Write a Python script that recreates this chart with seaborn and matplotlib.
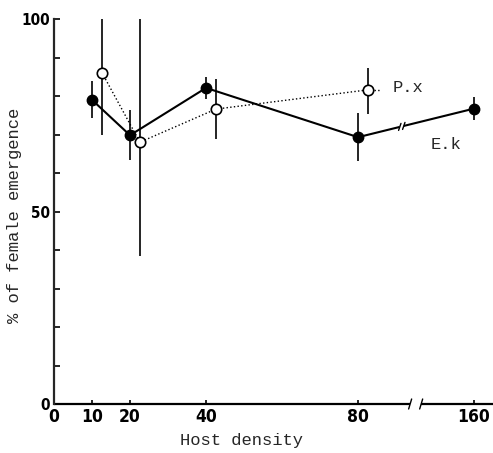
import numpy as np
import pandas as pd
import matplotlib
matplotlib.use("Agg")
import matplotlib.pyplot as plt
import seaborn as sns

# Host densities tested and axis tick labels
density = [10, 20, 40, 80, 160]
tick_values = [0, 10, 20, 40, 80, 160]
tick_labels = ["0", "10", "20", "40", "80", "160"]

# E. k : mean % female emergence and standard error
ek_mean = [79.0, 69.8, 82.1, 69.3, 76.7]
ek_err = [4.8, 6.5, 2.8, 6.2, 3.0]

# P. x : mean % female emergence and error (lower / upper)
px_density = [10, 20, 40, 80]
px_mean = [86.1, 68.0, 76.6, 81.6]
px_err_low = [16.3, 29.6, 7.8, 6.2]
px_err_high = [16.3, 32.0, 7.8, 5.8]

PX_DODGE = 2.6          # small horizontal shift so the two series do not overlap
COMPRESS = 0.38         # densities beyond 80 are drawn on a compressed scale
AXIS_BREAK = (93.7, 96.6)
LINE_BREAK = 91.5
XMAX, YMAX = 115.5, 100


def axis_pos(d):
    d = np.asarray(d, dtype=float)
    return np.where(d <= 80, d, 80 + (d - 80) * COMPRESS)


ek = pd.DataFrame({"pos": axis_pos(density), "pct": ek_mean, "err": ek_err})
px = pd.DataFrame({"pos": axis_pos(px_density) + PX_DODGE, "pct": px_mean,
                   "lo": px_err_low, "hi": px_err_high})

sns.set_style("white")
plt.rcParams["font.family"] = ["Liberation Mono", "DejaVu Sans Mono"]

fig = plt.figure(figsize=(4.93, 4.53), dpi=100)
ax = fig.add_axes([54 / 493, 49 / 453, 439 / 493, 385 / 453])

# error bars (under the markers)
ax.errorbar(ek["pos"], ek["pct"], yerr=ek["err"], fmt="none", ecolor="black",
            elinewidth=1.2, capsize=0, zorder=2)
ax.errorbar(px["pos"], px["pct"], yerr=[px["lo"], px["hi"]], fmt="none",
            ecolor="black", elinewidth=1.2, capsize=0, zorder=2)

sns.lineplot(data=px, x="pos", y="pct", ax=ax, color="black", linestyle=":",
             linewidth=1.0, marker="o", markersize=7.5, markerfacecolor="white",
             markeredgecolor="black", markeredgewidth=1.2, zorder=3)
sns.lineplot(data=ek, x="pos", y="pct", ax=ax, color="black", linestyle="-",
             linewidth=1.5, marker="o", markersize=7.5, markerfacecolor="black",
             markeredgecolor="black", markeredgewidth=1.0, zorder=4)

ax.set_xlim(0, XMAX)
ax.set_ylim(0, YMAX)

# data units per pixel, used for the small break marks
sx = XMAX / 439
sy = YMAX / 385

# short dotted leader from the last P.x point towards its label
x_last = px["pos"].iloc[-1]
ax.plot([x_last + 1.6, x_last + 3.4], [px_mean[-1], px_mean[-1]], color="black",
        linestyle=":", linewidth=1.0, zorder=3)

# break on the E.k line between 80 and 160
yb = np.interp(LINE_BREAK, ek["pos"].iloc[3:5], ek["pct"].iloc[3:5])
slope = (ek["pct"].iloc[4] - ek["pct"].iloc[3]) / (ek["pos"].iloc[4] - ek["pos"].iloc[3])
gx = 2.0 * sx
ax.plot([LINE_BREAK - gx, LINE_BREAK + gx],
        [yb - slope * gx, yb + slope * gx], color="white", lw=3.2, zorder=5,
        solid_capstyle="butt")
for x0 in (LINE_BREAK - gx, LINE_BREAK + gx):
    y0 = yb + slope * (x0 - LINE_BREAK)
    ax.plot([x0 - 1.2 * sx, x0 + 1.2 * sx], [y0 - 3.5 * sy, y0 + 3.5 * sy],
            color="black", lw=1.0, zorder=6)

# spines: left axis plus a broken bottom axis
for side in ("top", "right", "bottom"):
    ax.spines[side].set_visible(False)
ax.spines["left"].set_linewidth(1.6)
xt = ax.get_xaxis_transform()
ax.plot([0, AXIS_BREAK[0]], [0, 0], transform=xt, color="black", lw=1.6,
        clip_on=False, solid_capstyle="butt")
ax.plot([AXIS_BREAK[1], XMAX], [0, 0], transform=xt, color="black", lw=1.6,
        clip_on=False, solid_capstyle="butt")
for x0 in AXIS_BREAK:
    ax.plot([x0 - 1.5 * sx, x0 + 1.5 * sx], [-5 / 385, 5 / 385], transform=xt,
            color="black", lw=1.0, clip_on=False)

# ticks
tick_font = {"family": ["Liberation Sans Narrow", "DejaVu Sans"],
             "weight": "bold", "stretch": "condensed"}
ax.set_xticks(axis_pos(tick_values))
ax.set_xticklabels(tick_labels, fontdict={**tick_font, "size": 12.5})
ax.set_yticks([0, 50, 100])
ax.set_yticklabels(["0", "50", "100"], fontdict={**tick_font, "size": 11})
ax.set_yticks(np.arange(0, 101, 10), minor=True)
ax.tick_params(axis="x", direction="in", length=3, width=1.2, pad=3,
               bottom=True, colors="black")
ax.tick_params(axis="y", which="both", direction="in", length=4, width=1.2,
               pad=3, left=True, colors="black")
ax.tick_params(axis="y", which="minor", labelleft=False)

# axis titles
ax.set_xlabel("Host density", fontsize=12.3, va="center")
ax.xaxis.set_label_coords((241 - 54) / 439, (404 - 440) / 385)
ax.set_ylabel("% of female emergence", fontsize=12.3, va="center")
ax.yaxis.set_label_coords((15 - 54) / 439, 0.49)

# series labels
ax.text(axis_pos(px_density)[-1] + PX_DODGE + 6.5, px_mean[-1] + 0.5, "P.x",
        fontsize=12.3, va="center", ha="left")
ax.text(axis_pos(density)[-1] - 11.4, ek_mean[-1] - 9.4, "E.k",
        fontsize=12.3, va="center", ha="left")

fig.savefig("out.png", dpi=100)
